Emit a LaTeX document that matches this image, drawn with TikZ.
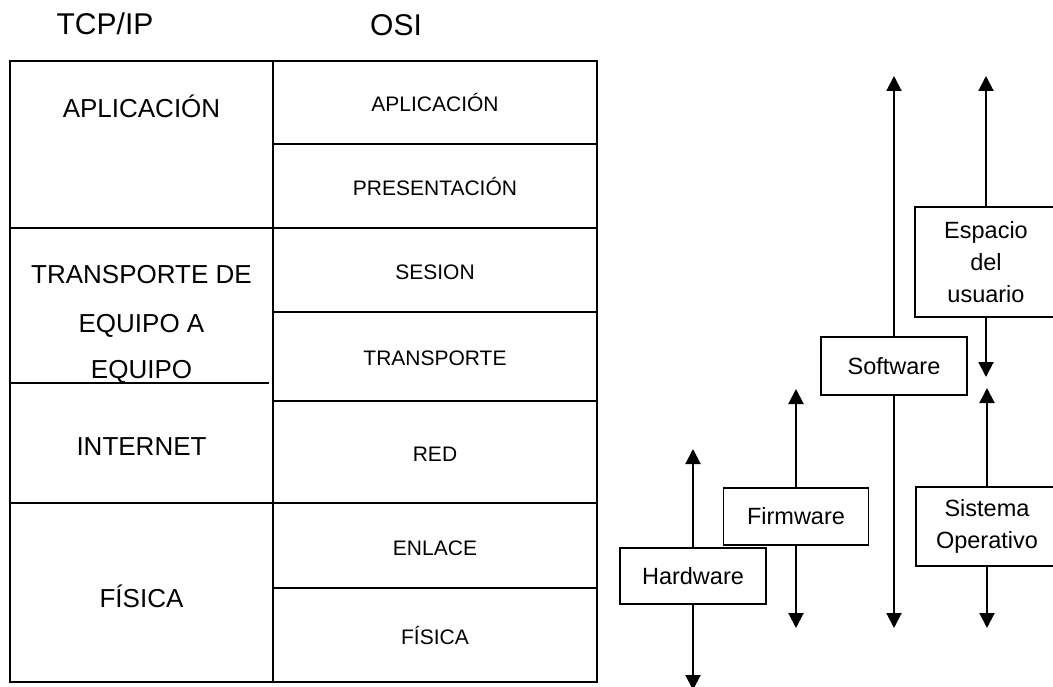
\documentclass[tikz,border=0pt]{standalone}
\usepackage{fontspec}
\setmainfont{Liberation Sans}
\usepackage{tikz}
\usetikzlibrary{arrows.meta}

\begin{document}
\begin{tikzpicture}[x=1pt, y=-1pt]
\tikzstyle{title}=[anchor=base, font=\fontsize{30}{36}\selectfont]
\tikzstyle{tcp}=[anchor=base, font=\fontsize{26}{31}\selectfont]
\tikzstyle{osi}=[anchor=base, font=\fontsize{21}{25}\selectfont]
\tikzstyle{grid}=[line width=1.3pt]
\tikzstyle{layer}=[draw, line width=1.5pt, inner sep=0pt, align=center, font=\fontsize{23.5}{32}\selectfont]
\tikzstyle{link}=[line width=2pt, -{Triangle[width=15pt, length=15pt]}]
\useasboundingbox (0,0) rectangle (1053,687);

% the two models side by side
\node[title] (tcpip) at (105,35) {TCP/IP};
\node[title] (osi) at (396,36) {OSI};

\draw[grid] (10,61) rectangle (597,682);
\draw[grid] (273,61) -- (273,682);
\foreach \y in {144,228,312,401,503,588}
  \draw[grid] (273,\y) -- (597,\y);
\foreach \y in {228,503}
  \draw[grid] (10,\y) -- (273,\y);
\draw[line width=2pt] (11,383) -- (269,383);

\node[tcp] (tapp) at (141.5,118) {APLICACIÓN};
\node[tcp] (ttra) at (141.5,284) {TRANSPORTE DE};
\node[tcp] (ttrb) at (141.5,332) {EQUIPO A};
\node[tcp] (ttrc) at (141.5,378) {EQUIPO};
\node[tcp] (tint) at (141.5,455) {INTERNET};
\node[tcp] (tfis) at (141.5,607) {FÍSICA};

\node[osi] (oapp) at (435,112) {APLICACIÓN};
\node[osi] (opre) at (435,195.5) {PRESENTACIÓN};
\node[osi] (oses) at (435,279.5) {SESION};
\node[osi] (otra) at (435,366) {TRANSPORTE};
\node[osi] (ored) at (435,461.5) {RED};
\node[osi] (oenl) at (435,555) {ENLACE};
\node[osi] (ofis) at (435,644.5) {FÍSICA};

% the layers of a computer
\node[layer, minimum width=146pt, minimum height=56pt] (hw) at (693,576) {Hardware};
\node[layer, minimum width=145pt, minimum height=57pt] (fw) at (796,516.5) {Firmware};
\node[layer, minimum width=146pt, minimum height=58pt] (sw) at (894,366) {Software};
\node[layer, minimum width=142pt, minimum height=110pt] (us) at (986,262) {Espacio\\del\\usuario};
\node[layer, minimum width=142pt, minimum height=79pt] (so) at (987,526.5) {Sistema\\Operativo};

\coordinate (hwT) at (693,449);
\coordinate (hwB) at (693,690);
\coordinate (fwT) at (796,389);
\coordinate (fwB) at (796,628);
\coordinate (swT) at (894,76);
\coordinate (swB) at (894,628);
\coordinate (usT) at (986,76);
\coordinate (usB) at (986,377);
\coordinate (soT) at (987,388);
\coordinate (soB) at (987,628);

\path[link]
(hw) edge (hwT)
     edge (hwB)
(fw) edge (fwT)
     edge (fwB)
(sw) edge (swT)
     edge (swB)
(us) edge (usT)
     edge (usB)
(so) edge (soT)
     edge (soB);
\end{tikzpicture}
\end{document}
